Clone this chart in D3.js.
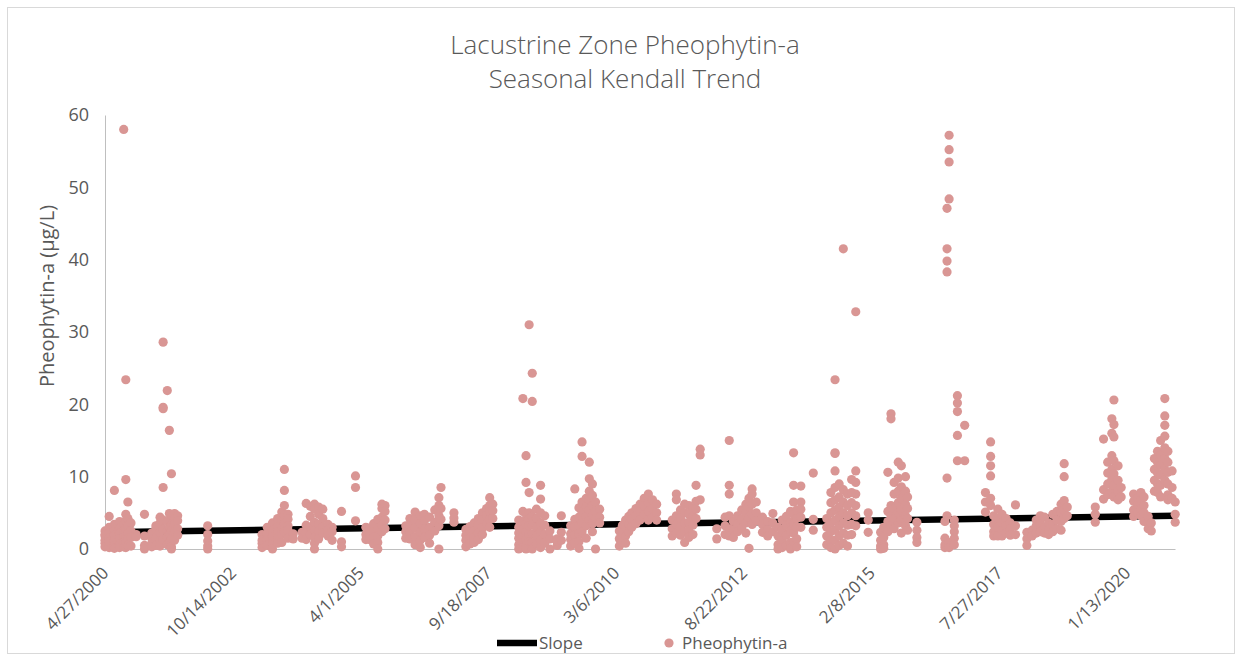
<!DOCTYPE html>
<html>
<head>
<meta charset="utf-8">
<script src="https://cdn.jsdelivr.net/npm/d3@7"></script>
<style>
  body { margin: 0; background: #fff; }
  text { font-family: "Open Sans", "DejaVu Sans", sans-serif; fill: #595959; }
</style>
</head>
<body>
<div id="chart"></div>
<script>
// sampling events: decimal year of the sample date, values measured that day (µg/L)
var sampleYears = [
  2000.32, 2000.40, 2000.50, 2000.60, 2000.68, 2000.72, 2000.76, 2000.82, 2000.92,
  2001.08, 2001.22, 2001.30, 2001.38, 2001.44, 2001.52, 2001.56, 2001.60, 2001.66, 2001.72,
  2002.30,
  2003.35, 2003.45, 2003.55, 2003.65, 2003.73, 2003.78, 2003.85, 2003.95,
  2004.12, 2004.20, 2004.28, 2004.36, 2004.44, 2004.52, 2004.62, 2004.70, 2004.88,
  2005.15, 2005.35, 2005.42, 2005.50, 2005.58, 2005.66, 2005.72,
  2006.12, 2006.20, 2006.30, 2006.40, 2006.48, 2006.58, 2006.68, 2006.76, 2006.80,
  2007.05, 2007.28, 2007.36, 2007.44, 2007.52, 2007.60, 2007.68, 2007.74, 2007.80,
  2008.30, 2008.38, 2008.44, 2008.50, 2008.56, 2008.64, 2008.72, 2008.80, 2008.90,
  2009.04, 2009.12, 2009.30, 2009.38, 2009.46, 2009.52, 2009.60, 2009.66, 2009.72, 2009.78, 2009.86,
  2010.24, 2010.30, 2010.36, 2010.42, 2010.48, 2010.56, 2010.64, 2010.72, 2010.80, 2010.88, 2010.96,
  2011.26, 2011.34, 2011.42, 2011.50, 2011.58, 2011.66, 2011.72, 2011.80,
  2012.12, 2012.28, 2012.36, 2012.44, 2012.52, 2012.60, 2012.68, 2012.74, 2012.80, 2012.88,
  2013.00, 2013.10, 2013.20, 2013.30, 2013.38, 2013.46, 2013.54, 2013.60, 2013.66, 2013.74, 2013.98,
  2014.24, 2014.32, 2014.40, 2014.48, 2014.56, 2014.64, 2014.72, 2014.80,
  2015.04, 2015.28, 2015.34, 2015.42, 2015.48, 2015.54, 2015.62, 2015.68, 2015.76, 2015.80, 2015.98,
  2016.52, 2016.56, 2016.60, 2016.70, 2016.76, 2016.90,
  2017.30, 2017.40, 2017.46, 2017.54, 2017.62, 2017.70, 2017.78, 2017.88,
  2018.10, 2018.20, 2018.28, 2018.36, 2018.44, 2018.52, 2018.60, 2018.68, 2018.76, 2018.82, 2018.88,
  2019.42, 2019.58, 2019.66, 2019.74, 2019.78, 2019.86, 2019.92,
  2020.16, 2020.24, 2020.30, 2020.36, 2020.44, 2020.50,
  2020.56, 2020.62, 2020.68, 2020.76, 2020.82, 2020.90, 2020.96
];

var sampleValues = [
  [2.5, 1.8, 1.2, 0.8, 0.3, 2.0],
  [4.5, 3.0, 2.2, 1.5, 0.6, 0.2, 1.0],
  [8.1, 3.4, 2.6, 1.9, 1.1, 0.4, 0.1],
  [3.8, 2.9, 2.2, 1.4, 0.7, 0.2],
  [58.0, 3.5, 2.4, 1.6, 0.9, 0.3],
  [23.4, 9.6, 4.8, 3.9, 2.7, 1.8, 1.0, 0.2],
  [6.5, 4.2, 3.2, 2.1, 1.4, 0.5],
  [3.6, 2.5, 1.6, 0.4],
  [2.0, 1.7],
  [4.8, 1.8, 0.5, 0.0],
  [1.5, 0.8, 0.3, 2.2],
  [2.8, 1.6, 0.5, 3.2],
  [4.4, 3.6, 2.3, 1.1, 0.4],
  [28.6, 19.6, 19.4, 8.5, 4.0, 2.7, 1.3],
  [21.9, 3.8, 2.5, 1.7, 0.6],
  [16.4, 4.9, 3.0, 2.0, 0.9],
  [10.4, 4.6, 3.4, 2.6, 1.5, 0.3, 0.0],
  [4.9, 4.2, 3.5, 2.4, 1.2],
  [4.6, 3.9, 2.8, 1.9],
  [3.2, 2.0, 1.1, 0.4, 0.0],
  [2.0, 0.8, 0.2, 1.2],
  [3.0, 2.1, 1.3, 0.5],
  [3.6, 2.6, 1.7, 0.6, 0.0],
  [4.2, 3.1, 2.3, 1.5, 0.8],
  [5.1, 3.8, 2.9, 2.0, 0.9],
  [11.0, 8.1, 6.0, 4.7, 3.5, 2.4],
  [4.8, 4.1, 3.2, 2.6, 1.5],
  [2.1, 1.4],
  [2.3, 1.5],
  [6.3, 3.3, 2.2, 1.3],
  [5.9, 4.5, 3.0, 2.0],
  [6.2, 5.5, 3.7, 2.6, 1.6, 0.8, 0.0],
  [5.8, 4.8, 3.4, 2.5, 1.4],
  [5.5, 4.2, 3.0, 2.2],
  [3.4, 2.6, 1.8],
  [3.0, 2.4, 1.2],
  [5.2, 1.0, 0.3],
  [10.1, 8.5, 3.9],
  [2.0, 1.3, 3.0],
  [2.9, 2.0, 1.3],
  [3.5, 2.4, 1.6, 0.7],
  [4.1, 2.9, 1.8, 0.9, 0.0],
  [6.2, 5.6, 4.4, 3.3, 2.4],
  [6.0, 5.2, 4.0, 2.8],
  [3.2, 2.4, 1.5],
  [4.2, 3.4, 2.3, 1.4],
  [5.1, 4.0, 2.9, 1.7, 0.6],
  [4.6, 3.5, 2.3, 1.2, 0.2],
  [4.8, 3.9, 2.7, 1.6],
  [4.4, 3.0, 1.9, 0.8],
  [5.4, 3.7, 2.5],
  [7.1, 6.0, 4.6, 3.2, 0.0],
  [8.5, 5.6, 4.1],
  [5.0, 4.3, 3.7],
  [2.7, 1.9, 1.2, 0.3],
  [3.1, 2.3, 1.5, 0.7],
  [3.6, 2.5, 1.6, 0.9],
  [4.2, 3.3, 2.2, 1.3],
  [5.0, 4.0, 2.9, 2.0],
  [5.6, 4.6, 3.5],
  [7.1, 6.0, 5.2, 4.1, 3.0],
  [6.2, 5.3, 4.2],
  [4.0, 3.0, 2.2, 1.5, 0.6, 0.0],
  [20.8, 5.2, 3.8, 2.7, 1.8, 0.9, 0.2],
  [12.9, 9.2, 4.8, 3.5, 2.4, 1.3, 0.4, 0.0],
  [31.0, 7.8, 5.0, 4.1, 3.2, 2.0, 1.0],
  [24.3, 20.4, 4.5, 3.3, 2.1, 0.9, 0.0],
  [5.5, 4.2, 3.0, 1.8, 0.7],
  [8.8, 6.9, 5.0, 3.6, 2.5, 1.2, 0.2],
  [4.6, 3.3, 2.0, 0.8],
  [2.5, 1.4, 0.0],
  [1.4, 0.5, 1.0],
  [4.6, 2.3, 1.2],
  [3.2, 2.1, 1.3, 0.4],
  [8.3, 4.1, 3.0, 1.9, 0.8],
  [5.7, 4.4, 3.2, 2.0, 1.0, 0.1],
  [14.8, 12.8, 6.5, 5.1, 3.6, 2.4],
  [7.0, 5.8, 4.5, 3.2, 1.5],
  [12.0, 9.7, 8.0, 6.8, 5.4, 4.0],
  [9.0, 7.4, 6.0, 4.7, 3.5, 2.4],
  [6.5, 5.2, 4.2, 0.0],
  [5.5, 4.4, 3.6],
  [2.5, 1.4, 0.4],
  [3.3, 2.2, 1.0],
  [4.0, 3.0, 1.8, 0.8],
  [4.5, 3.5, 2.4],
  [5.0, 4.1, 3.0],
  [5.6, 4.6, 3.5],
  [6.2, 5.2, 4.0],
  [7.0, 6.0, 4.8],
  [7.6, 6.4, 5.2, 4.0],
  [6.8, 5.6, 4.4],
  [6.2, 5.0, 4.0],
  [4.0, 2.8, 1.8],
  [7.6, 6.8, 4.6, 3.4, 2.2],
  [5.4, 4.3, 3.1, 1.9],
  [6.2, 5.0, 3.6, 2.4, 0.9],
  [6.0, 4.8, 3.7, 2.6, 1.6],
  [5.6, 4.5, 3.3, 2.0],
  [8.8, 6.6, 5.5, 4.2],
  [13.8, 13.0, 6.8],
  [2.8, 1.4],
  [4.4, 3.2, 2.0],
  [15.0, 8.8, 7.6, 4.6, 2.8, 1.8],
  [3.8, 2.6, 1.6],
  [4.6, 3.4, 2.4],
  [5.4, 4.1, 2.9],
  [6.2, 5.0, 3.6, 2.2],
  [7.0, 5.8, 4.4, 0.1],
  [8.3, 7.6, 6.2, 4.8, 3.4],
  [6.5, 5.0, 3.9],
  [4.4, 3.4, 2.3],
  [3.8, 2.6, 1.8],
  [4.9, 3.6, 2.4],
  [3.0, 1.8, 0.6, 0.0],
  [4.0, 2.6, 1.2, 0.2],
  [4.5, 3.3, 1.9, 0.5],
  [5.2, 3.7, 2.5, 0.9, 0.0],
  [13.3, 8.8, 6.5, 4.8, 3.5, 2.2, 1.0],
  [5.4, 4.2, 3.0, 1.4, 0.3],
  [8.7, 6.5, 5.5, 4.4, 3.0],
  [10.5, 4.1, 2.6],
  [4.2, 3.0, 1.8, 0.6],
  [7.8, 6.4, 5.0, 3.6, 2.4, 1.2, 0.2],
  [23.4, 13.3, 13.2, 10.8, 8.5, 6.8, 5.4, 4.0, 2.6, 1.2, 0.0],
  [9.0, 7.2, 5.8, 4.5, 3.2, 1.8, 0.5],
  [41.5, 8.2, 6.5, 5.0, 3.6, 2.2, 0.8],
  [7.6, 6.0, 4.6, 3.3, 1.9, 0.4],
  [9.6, 7.8, 6.4, 5.0, 3.4, 2.0],
  [32.8, 10.8, 9.2, 7.6, 6.0, 4.6, 3.2],
  [5.0, 4.0, 2.3],
  [2.3, 1.2, 0.4, 0.0],
  [3.0, 1.6, 0.6, 0.1],
  [10.6, 5.2, 3.8, 2.4],
  [18.7, 18.0, 6.0, 4.6, 3.2],
  [9.2, 7.6, 5.6, 4.2, 2.8],
  [12.0, 9.8, 8.0, 6.4, 5.0, 3.6],
  [11.5, 8.6, 7.0, 5.4, 4.0, 2.2],
  [10.0, 8.0, 6.2, 4.6, 3.2],
  [7.2, 5.6, 4.2, 2.6],
  [3.7, 2.6, 1.6, 0.9],
  [3.8, 1.5, 0.6, 0.2],
  [47.1, 41.5, 39.8, 38.3, 9.8, 4.6],
  [57.2, 55.2, 53.5, 48.4, 0.9, 0.2],
  [4.0, 3.2, 2.4, 1.5, 0.6],
  [21.2, 20.2, 19.0, 15.7, 12.2],
  [17.1, 12.2],
  [7.8, 6.5, 5.1],
  [14.8, 12.8, 11.5, 10.1, 7.0, 6.0],
  [4.6, 3.4, 2.4, 1.8],
  [5.5, 4.2, 3.0, 1.8],
  [4.8, 3.6, 2.5, 1.8],
  [4.2, 3.2, 2.2],
  [3.6, 2.8, 1.9],
  [6.1, 3.2, 2.0],
  [2.3, 1.4, 0.5],
  [2.6, 1.8],
  [4.0, 3.2, 2.2],
  [4.6, 3.5, 2.4],
  [4.4, 3.0, 2.2],
  [3.6, 2.6, 2.0],
  [4.8, 3.4, 2.4],
  [5.2, 4.0, 2.8],
  [6.2, 5.0, 3.8, 2.6],
  [11.8, 10.0, 6.7, 5.4, 4.2],
  [5.8, 4.6],
  [5.8, 4.8, 3.7],
  [15.2, 8.2, 6.9],
  [12.0, 10.5, 9.0, 7.5],
  [18.0, 16.0, 12.9, 11.0, 9.6, 8.0],
  [20.6, 17.2, 15.5, 12.2, 10.4, 8.8, 7.2],
  [11.5, 9.5, 8.0, 6.8],
  [8.5, 7.2],
  [7.6, 6.6, 5.4, 4.5],
  [7.0, 6.0, 5.0],
  [7.8, 6.8, 5.6, 4.6],
  [7.2, 6.0, 5.0, 3.8],
  [4.5, 3.6, 2.8],
  [3.6, 2.5],
  [12.5, 11.0, 9.5, 8.0],
  [13.5, 12.0, 10.5, 9.0, 7.8],
  [15.0, 13.0, 11.6, 10.2, 8.8, 7.2],
  [20.8, 18.4, 17.1, 15.6, 14.0, 12.5, 11.0, 9.5],
  [13.5, 12.0, 10.6, 9.0, 7.5, 6.8],
  [10.8, 8.5, 7.0],
  [6.5, 4.8, 3.7]
];

// Sen slope trend line, first and last date of the record
var slopeDates = ["4/27/2000", "12/16/2020"];
var slopeValues = [2.3, 4.6];

var xTickLabels = ["4/27/2000", "10/14/2002", "4/1/2005", "9/18/2007", "3/6/2010",
  "8/22/2012", "2/8/2015", "7/27/2017", "1/13/2020"];
var yTicks = [0, 10, 20, 30, 40, 50, 60];

const W = 1243;
const H = 662;
const margin = { top: 115, right: 68, bottom: 113, left: 105 };
const width = W - margin.left - margin.right;
const height = H - margin.top - margin.bottom;

const parseDate = d3.timeParse("%m/%d/%Y");

function yearToDate(yr) {
  var y = Math.floor(yr);
  var start = new Date(y, 0, 1).getTime();
  var end = new Date(y + 1, 0, 1).getTime();
  return new Date(start + (yr - y) * (end - start));
}

var points = [];
sampleYears.forEach(function (yr, i) {
  sampleValues[i].forEach(function (v) {
    points.push({ date: yearToDate(yr), value: v });
  });
});

const svg = d3
  .select("#chart")
  .append("svg")
  .attr("width", W)
  .attr("height", H);

// chart area border
svg
  .append("rect")
  .attr("x", 7.5)
  .attr("y", 7.5)
  .attr("width", W - 16)
  .attr("height", H - 16)
  .attr("fill", "#fff")
  .attr("stroke", "#d9d9d9");

const x = d3
  .scaleTime()
  .domain([parseDate(slopeDates[0]), parseDate(slopeDates[1])])
  .range([0, width]);

const y = d3.scaleLinear().domain([0, 60]).range([height, 0]);

const g = svg
  .append("g")
  .attr("transform", "translate(" + margin.left + "," + margin.top + ")");

// axes
const yAxis = g
  .append("g")
  .attr("class", "y axis")
  .call(d3.axisLeft(y).tickValues(yTicks).tickSize(0).tickSizeOuter(0).tickPadding(16));
yAxis.select(".domain").attr("stroke", "#bfbfbf");
yAxis.selectAll("text").attr("font-size", 18).style("fill", "#595959");

const xAxis = g
  .append("g")
  .attr("class", "x axis")
  .attr("transform", "translate(0," + height + ")")
  .call(
    d3
      .axisBottom(x)
      .tickValues(xTickLabels.map(parseDate))
      .tickSize(0)
      .tickSizeOuter(0)
      .tickFormat(function (d, i) {
        return xTickLabels[i];
      })
  );
xAxis.select(".domain").attr("stroke", "#bfbfbf");
xAxis
  .selectAll("text")
  .attr("font-size", 17)
  .style("fill", "#595959")
  .attr("text-anchor", "end")
  .attr("y", 0)
  .attr("dy", "0.35em")
  .attr("transform", "translate(0,21) rotate(-45)");

// trend line
var line = d3
  .line()
  .x(function (d) {
    return x(d[0]);
  })
  .y(function (d) {
    return y(d[1]);
  });

g.append("path")
  .datum(slopeDates.map(function (d, i) { return [parseDate(d), slopeValues[i]]; }))
  .attr("fill", "none")
  .attr("stroke", "#000")
  .attr("stroke-width", 6.5)
  .attr("d", line);

// observations
g.selectAll(".dot")
  .data(points)
  .enter()
  .append("circle")
  .attr("class", "dot")
  .attr("cx", function (d) {
    return x(d.date);
  })
  .attr("cy", function (d) {
    return y(d.value);
  })
  .attr("r", 4.6)
  .attr("fill", "#d99694");

// titles
svg
  .append("text")
  .attr("x", 625)
  .attr("y", 54)
  .attr("text-anchor", "middle")
  .attr("font-size", 26)
  .attr("font-weight", 300)
  .text("Lacustrine Zone Pheophytin-a");
svg
  .append("text")
  .attr("x", 625)
  .attr("y", 88)
  .attr("text-anchor", "middle")
  .attr("font-size", 26)
  .attr("font-weight", 300)
  .text("Seasonal Kendall Trend");

svg
  .append("text")
  .attr("transform", "translate(54,296) rotate(-90)")
  .attr("text-anchor", "middle")
  .attr("font-size", 20)
  .text("Pheophytin-a (µg/L)");

// legend
const legend = svg.append("g").attr("transform", "translate(0,643)");
legend
  .append("line")
  .attr("x1", 497)
  .attr("x2", 537)
  .attr("stroke", "#000")
  .attr("stroke-width", 6.5);
legend
  .append("text")
  .attr("x", 539)
  .attr("dy", "0.35em")
  .attr("font-size", 17)
  .text("Slope");
legend
  .append("circle")
  .attr("cx", 669)
  .attr("r", 4.6)
  .attr("fill", "#d99694");
legend
  .append("text")
  .attr("x", 682)
  .attr("dy", "0.35em")
  .attr("font-size", 17)
  .text("Pheophytin-a");
</script>
</body>
</html>
